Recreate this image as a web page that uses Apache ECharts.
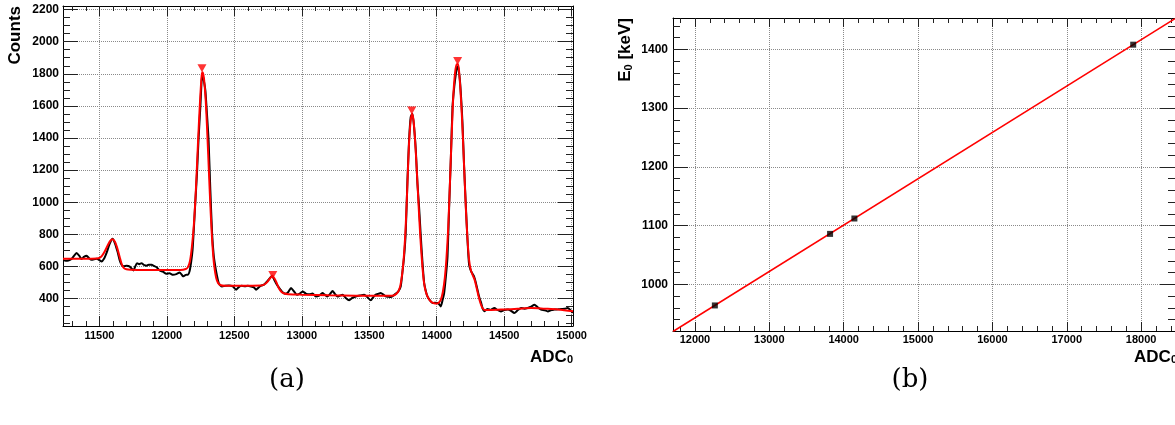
<!DOCTYPE html>
<html><head><meta charset="utf-8">
<script src="https://cdn.jsdelivr.net/npm/echarts@6/dist/echarts.min.js"></script>
<style>html,body{margin:0;padding:0;background:#fff}#c{width:1175px;height:425px}</style>
</head><body><div id="c"></div>
<script>
// ---------- (a) spectrum ----------
const histX = [11232,11250,11270,11290,11310,11330,11350,11368,11385,11405,11425,11442,11460,11479,11500,11516,11535,11555,11575,11597,11615,11635,11650,11664,11680,11701,11725,11752,11765,11779,11795,11812,11830,11849,11865,11885,11905,11922,11947,11970,11996,12020,12045,12070,12094,12110,12119,12140,12156,12168,12180,12190,12198,12210,12223,12235,12248,12255,12262,12272,12285,12297,12309,12322,12335,12347,12359,12372,12384,12397,12409,12430,12460,12488,12513,12530,12551,12580,12600,12625,12645,12661,12680,12698,12720,12740,12760,12779,12795,12810,12825,12840,12858,12880,12900,12920,12940,12963,12985,13006,13030,13055,13080,13104,13129,13153,13170,13190,13210,13228,13245,13265,13285,13302,13325,13351,13375,13400,13430,13462,13485,13511,13530,13548,13565,13585,13605,13622,13640,13659,13680,13696,13715,13733,13745,13758,13770,13783,13795,13807,13820,13832,13845,13857,13869,13882,13895,13907,13920,13931,13950,13968,13985,14006,14018,14030,14043,14055,14068,14080,14092,14105,14117,14130,14142,14152,14159,14168,14174,14183,14191,14203,14216,14228,14240,14255,14265,14277,14290,14302,14315,14327,14340,14352,14377,14400,14427,14450,14476,14500,14526,14550,14575,14600,14625,14650,14674,14700,14724,14750,14773,14800,14823,14850,14872,14900,14922,14950,14971,14990,15008];
const histY = [640,636,638,645,665,684,668,647,660,667,650,642,646,648,640,632,650,690,740,773,745,690,640,611,602,605,600,576,600,621,615,621,610,605,612,611,604,597,576,568,555,558,549,553,563,550,539,548,549,570,630,700,808,990,1180,1400,1593,1720,1800,1765,1697,1550,1386,1076,808,670,600,540,497,482,476,480,482,476,456,470,481,478,481,476,470,456,470,481,488,505,525,543,520,495,475,458,440,430,442,466,448,425,432,445,432,428,432,414,419,435,425,414,430,448,430,413,420,425,405,390,405,414,420,425,410,390,410,425,430,435,425,414,412,410,420,431,445,476,560,662,808,1138,1386,1531,1552,1469,1324,1118,973,786,620,497,445,414,390,373,375,373,365,352,390,435,540,662,973,1283,1593,1720,1800,1845,1841,1790,1738,1620,1490,1221,973,766,610,570,555,538,500,456,410,380,340,322,336,330,342,330,321,330,332,325,311,328,342,338,342,350,363,345,332,328,321,330,332,334,336,338,342,330,311];

const fitX = [11230,11300,11400,11480,11500,11520,11540,11560,11580,11597,11615,11632,11650,11665,11680,11700,11730,11800,11900,12000,12100,12140,12155,12170,12185,12200,12215,12230,12245,12258,12265,12275,12288,12300,12312,12325,12338,12350,12365,12380,12400,12430,12500,12600,12700,12725,12745,12765,12782,12800,12815,12830,12850,12870,12900,13000,13200,13400,13600,13680,13700,13715,13730,13745,13758,13770,13783,13795,13807,13818,13828,13840,13852,13865,13878,13892,13905,13920,13940,13960,13980,14000,14015,14030,14045,14060,14072,14085,14097,14110,14122,14135,14148,14158,14168,14180,14192,14204,14216,14228,14240,14252,14265,14280,14295,14310,14325,14340,14355,14400,14500,14600,14700,14800,14900,15010];
const fitY = [648,648,648,650,654,668,695,730,760,770,755,715,660,615,592,583,580,579,578,578,579,585,595,630,720,860,1080,1360,1620,1790,1810,1770,1630,1420,1180,930,730,610,530,497,484,481,481,481,482,490,505,528,542,522,495,465,442,432,428,425,421,419,418,420,430,445,480,560,680,850,1120,1370,1510,1550,1510,1380,1200,990,790,620,505,440,400,380,372,370,375,392,440,530,650,840,1100,1400,1650,1800,1860,1860,1790,1640,1440,1200,960,770,640,580,550,520,470,415,370,340,330,330,333,337,342,338,333,322];

const peakX = [12260, 12785, 13815, 14155];
const peakY = [1835, 548, 1572, 1880];

const aXTicks = [11500, 12000, 12500, 13000, 13500, 14000, 14500, 15000];
const aYTicks = [400, 600, 800, 1000, 1200, 1400, 1600, 1800, 2000, 2200];

// ---------- (b) calibration ----------
const calX = [12268, 13817, 14144, 17893];
const calY = [964.1, 1085.9, 1112.1, 1408.0];
const calLineX = [11705, 18455];
const calLineY = [919.7, 1452.4];

const bXTicks = [12000, 13000, 14000, 15000, 16000, 17000, 18000];
const bYTicks = [1000, 1100, 1200, 1300, 1400];

function range(a, b, s) { const r = []; for (let v = a; v <= b + 1e-9; v += s) r.push(+v.toFixed(6)); return r; }
const aXMinor = range(11300, 15000, 100);
const aYMinor = range(250, 2200, 50);
const bXMinor = range(11800, 18400, 200);
const bYMinor = range(940, 1440, 20);

const LABEL_FONT = 'Liberation Sans';
function ax(gi, pos, min, max, vals, len, o) {
  o = o || {};
  return {
    type: 'value', gridIndex: gi, position: pos, min: min, max: max,
    axisLine: { show: !!o.line, onZero: false, lineStyle: { color: '#000', width: 1 } },
    axisTick: { show: true, inside: true, length: len, customValues: vals, lineStyle: { color: '#222', width: 1 } },
    axisLabel: o.label ? Object.assign({ show: true, customValues: vals, color: '#000', fontFamily: LABEL_FONT, fontWeight: 'bold',
      formatter: function (v) { return String(v); } }, o.label) : { show: false },
    splitLine: o.grid ? { show: true, lineStyle: { color: '#8a8a8a', type: 'dotted', width: 1 } } : { show: false },
    splitArea: { show: false }
  };
}

const aXmin = 11230, aXmax = 15010, aYmin = 230, aYmax = 2222;
const bXmin = 11705, bXmax = 18455, bYmin = 920.6, bYmax = 1453.4;

const xAxes = [
  ax(0, 'bottom', aXmin, aXmax, aXTicks, 10, { line: true, grid: true, label: { fontSize: 11, margin: 4 } }),
  ax(0, 'bottom', aXmin, aXmax, aXMinor, 5),
  ax(0, 'top', aXmin, aXmax, aXTicks, 10, { line: true }),
  ax(0, 'top', aXmin, aXmax, aXMinor, 5),
  ax(1, 'bottom', bXmin, bXmax, bXTicks, 9, { line: true, grid: true, label: { fontSize: 11, margin: 3 } }),
  ax(1, 'bottom', bXmin, bXmax, bXMinor, 5),
  ax(1, 'top', bXmin, bXmax, bXTicks, 9, { line: true }),
  ax(1, 'top', bXmin, bXmax, bXMinor, 5)
];
const yAxes = [
  ax(0, 'left', aYmin, aYmax, aYTicks, 15, { line: true, grid: true, label: { fontSize: 12, margin: 4 } }),
  ax(0, 'left', aYmin, aYmax, aYMinor, 7),
  ax(0, 'right', aYmin, aYmax, aYTicks, 15, { line: true }),
  ax(0, 'right', aYmin, aYmax, aYMinor, 7),
  ax(1, 'left', bYmin, bYmax, bYTicks, 15, { line: true, grid: true, label: { fontSize: 12, margin: 5 } }),
  ax(1, 'left', bYmin, bYmax, bYMinor, 7),
  ax(1, 'right', bYmin, bYmax, bYTicks, 15, { line: true }),
  ax(1, 'right', bYmin, bYmax, bYMinor, 7)
];

const zip = (xs, ys) => xs.map((x, i) => [x, ys[i]]);

const richSub = {
  a: { fontSize: 17, fontWeight: 'bold', fontFamily: LABEL_FONT, lineHeight: 17, verticalAlign: 'top', fill: '#000' },
  s: { fontSize: 11, fontWeight: 'bold', fontFamily: LABEL_FONT, lineHeight: 11, padding: [10, 0, 0, 0], verticalAlign: 'bottom', fill: '#000' }
};

const chart = echarts.init(document.getElementById('c'), null, { renderer: 'canvas' });
chart.setOption({
  animation: false,
  backgroundColor: '#fff',
  grid: [
    { left: 63, top: 6, width: 510, height: 320, containLabel: false, outerBoundsMode: 'none' },
    { left: 673, top: 18, width: 502, height: 313, containLabel: false, outerBoundsMode: 'none' }
  ],
  xAxis: xAxes,
  yAxis: yAxes,
  series: [
    { type: 'line', xAxisIndex: 0, yAxisIndex: 0, data: zip(histX, histY), showSymbol: false, symbol: 'none', smooth: 0.2,
      lineStyle: { color: '#000', width: 2 }, z: 2 },
    { type: 'line', xAxisIndex: 0, yAxisIndex: 0, data: zip(fitX, fitY), showSymbol: false, symbol: 'none', smooth: 0.3,
      lineStyle: { color: '#ff0000', width: 2 }, z: 3 },
    { type: 'scatter', xAxisIndex: 0, yAxisIndex: 0, data: zip(peakX, peakY), symbol: 'triangle', symbolRotate: 180,
      symbolSize: [9, 8], itemStyle: { color: '#ff0000' }, z: 4 },
    { type: 'line', xAxisIndex: 4, yAxisIndex: 4, data: zip(calLineX, calLineY), showSymbol: false, symbol: 'none',
      lineStyle: { color: '#ff0000', width: 1.6 }, z: 3 },
    { type: 'scatter', xAxisIndex: 4, yAxisIndex: 4, data: zip(calX, calY), symbol: 'rect', symbolSize: 6,
      itemStyle: { color: '#000' }, z: 4 }
  ],
  graphic: [
    { type: 'text', x: 7, y: 6, rotation: Math.PI / 2,
      style: { text: 'Counts', fontSize: 17, fontWeight: 'bold', fontFamily: LABEL_FONT, fill: '#000', align: 'right', verticalAlign: 'top' } },
    { type: 'text', x: 573, y: 348.6,
      style: { text: '{a|ADC}{s|0}', rich: richSub, align: 'right', verticalAlign: 'top' } },
    { type: 'text', x: 617, y: 18, rotation: Math.PI / 2,
      style: { text: '{a|E}{s|0}{a| [keV]}', rich: richSub, align: 'right', verticalAlign: 'top' } },
    { type: 'text', x: 1177, y: 348.6,
      style: { text: '{a|ADC}{s|0}', rich: richSub, align: 'right', verticalAlign: 'top' } },
    { type: 'text', x: 287, y: 380,
      style: { text: '(a)', fontSize: 26, fontFamily: 'DejaVu Serif', fill: '#000', align: 'center', verticalAlign: 'middle' } },
    { type: 'text', x: 910, y: 380,
      style: { text: '(b)', fontSize: 26, fontFamily: 'DejaVu Serif', fill: '#000', align: 'center', verticalAlign: 'middle' } }
  ]
});
</script></body></html>
